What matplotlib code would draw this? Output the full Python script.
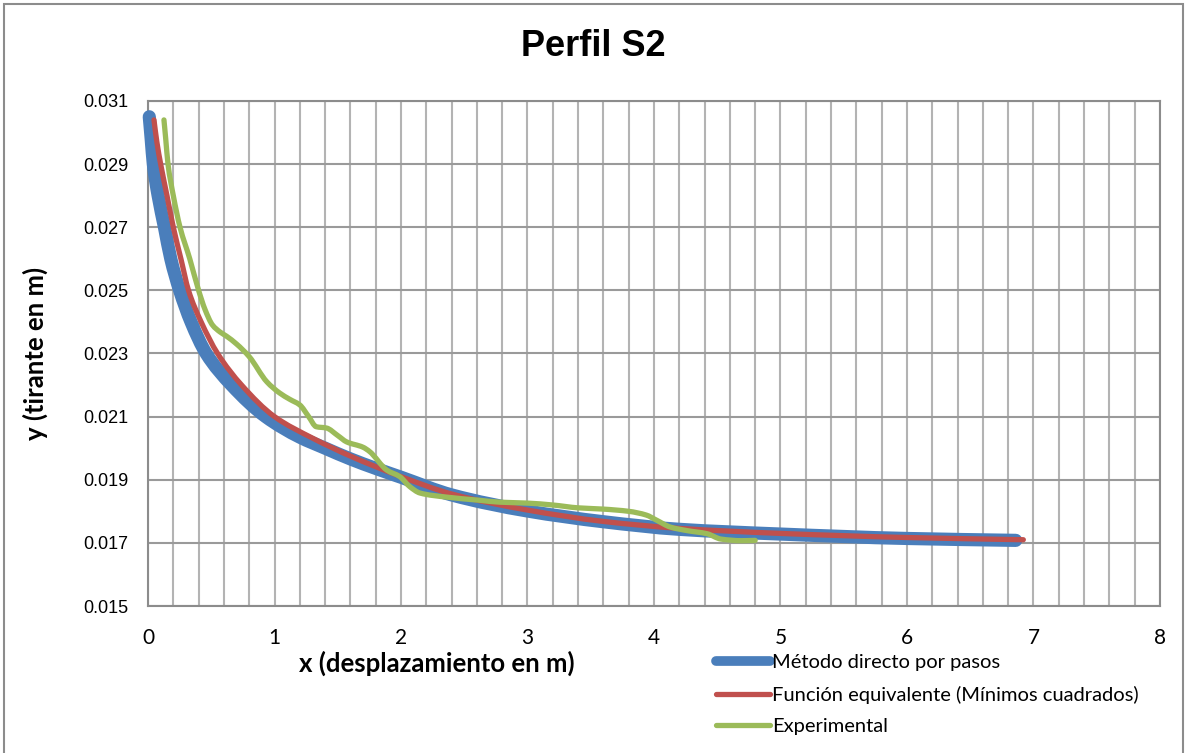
import matplotlib
matplotlib.use('Agg')
from matplotlib import pyplot as plt
from matplotlib.ticker import MultipleLocator, FormatStrFormatter
from matplotlib.lines import Line2D
from matplotlib.path import Path
from matplotlib.patches import PathPatch
import numpy as np

# Método directo por pasos
x_directo = [0.01, 0.025, 0.042, 0.08, 0.13, 0.18, 0.25, 0.34, 0.46, 0.66, 0.93, 1.2,
             1.4, 1.6, 1.8, 2.0, 2.4, 3.0, 3.6, 4.2, 5.0, 6.0, 6.86]
y_directo = [0.0305, 0.0298, 0.0290, 0.0280, 0.0270, 0.0260, 0.0250, 0.0240, 0.0230,
             0.0220, 0.0210, 0.02035, 0.0200, 0.01966, 0.01936, 0.01908, 0.01852,
             0.01801, 0.01767, 0.01743, 0.01728, 0.01714, 0.01708]

# Función equivalente (mínimos cuadrados)
x_funcion = [0.047, 0.07, 0.10, 0.15, 0.20, 0.26, 0.32, 0.42, 0.55, 0.74, 1.0, 1.3,
             1.6, 2.0, 2.4, 3.0, 3.6, 4.2, 5.0, 6.0, 6.92]
y_funcion = [0.0304, 0.0297, 0.0290, 0.0280, 0.0270, 0.0260, 0.0250, 0.0240, 0.0230,
             0.0220, 0.0210, 0.02032, 0.01975, 0.0191, 0.01855, 0.01804, 0.01768,
             0.01746, 0.01730, 0.01717, 0.01710]

# Experimental
x_exp = [0.126, 0.14, 0.158, 0.20, 0.253, 0.33, 0.40, 0.45, 0.51, 0.57, 0.62, 0.70,
         0.80, 0.94, 1.04, 1.12, 1.20, 1.27, 1.33, 1.41, 1.50, 1.57, 1.70, 1.75, 1.89,
         1.99, 2.07, 2.15, 2.36, 2.62, 2.78, 3.0, 3.2, 3.4, 3.6, 3.8, 3.94, 4.02, 4.13,
         4.26, 4.42, 4.53, 4.69, 4.80]
y_exp = [0.0304, 0.0298, 0.0290, 0.0280, 0.0270, 0.0260, 0.0250, 0.0244, 0.0239,
         0.02368, 0.02355, 0.0233, 0.0229, 0.0221, 0.02175, 0.02155, 0.02137, 0.0210,
         0.02068, 0.02064, 0.0204, 0.0202, 0.02003, 0.0199, 0.0193, 0.0191, 0.01878,
         0.01858, 0.01845, 0.01835, 0.01829, 0.01826, 0.0182, 0.01811, 0.01807, 0.0180,
         0.01788, 0.01772, 0.0175, 0.01739, 0.01729, 0.01712, 0.01707, 0.01708]

labels = ['Método directo por pasos',
          'Función equivalente (Mínimos cuadrados)',
          'Experimental']
colors = ['#4a7ebb', '#c0504d', '#9bbb59']
y_ticks = [0.015, 0.017, 0.019, 0.021, 0.023, 0.025, 0.027, 0.029, 0.031]


def smooth_line(ax, xs, ys, **kw):
    # linea suavizada: tramos bezier con pendientes monotonas (Fritsch-Carlson)
    x = np.asarray(xs, float)
    y = np.asarray(ys, float)
    h = np.diff(x)
    delta = np.diff(y) / h
    d = np.empty_like(x)
    d[0] = delta[0]
    d[-1] = delta[-1]
    for k in range(1, len(x) - 1):
        if delta[k - 1] * delta[k] <= 0:
            d[k] = 0.0
        else:
            w1 = 2 * h[k] + h[k - 1]
            w2 = h[k] + 2 * h[k - 1]
            d[k] = (w1 + w2) / (w1 / delta[k - 1] + w2 / delta[k])
    verts = [(x[0], y[0])]
    codes = [Path.MOVETO]
    for k in range(len(h)):
        verts += [(x[k] + h[k] / 3, y[k] + d[k] * h[k] / 3),
                  (x[k + 1] - h[k] / 3, y[k + 1] - d[k + 1] * h[k] / 3),
                  (x[k + 1], y[k + 1])]
        codes += [Path.CURVE4] * 3
    patch = PathPatch(Path(verts, codes), fill=False, capstyle='round',
                      joinstyle='round', clip_on=False, **kw)
    ax.add_patch(patch)


fig = plt.figure(figsize=(11.87, 7.53), dpi=100)
ax = fig.add_axes([0.1247, 0.1952, 0.8525, 0.6707])

smooth_line(ax, x_directo, y_directo, edgecolor=colors[0], lw=9.5, zorder=3)
smooth_line(ax, x_funcion, y_funcion, edgecolor=colors[1], lw=3.8, zorder=4)
smooth_line(ax, x_exp, y_exp, edgecolor=colors[2], lw=3.8, zorder=5)

ax.set_xlim(0, 8)
ax.set_ylim(0.015, 0.031)
ax.xaxis.set_major_locator(MultipleLocator(1))
ax.xaxis.set_minor_locator(MultipleLocator(0.2))
ax.set_yticks(y_ticks)
ax.yaxis.set_major_formatter(FormatStrFormatter('%.3f'))
ax.grid(which='both', axis='x', color='#b3b3b3', lw=1.5, zorder=1)
ax.grid(which='major', axis='y', color='#9a9a9a', lw=1.5, zorder=1)
ax.tick_params(which='both', length=0)
ax.tick_params(axis='y', pad=14, labelsize=13, labelfontfamily='Liberation Sans')
ax.tick_params(axis='x', pad=16, labelsize=15, labelfontfamily='Lato')
for s in ax.spines.values():
    s.set_color('#8c8c8c')
    s.set_linewidth(1.5)

fig.text(0.5, 0.938, 'Perfil S2', ha='center', va='center', fontsize=26,
         fontweight='bold', family='Liberation Sans')
fig.text(0.368, 0.119, 'x (desplazamiento en m)', ha='center', va='center',
         fontsize=18.5, fontweight='bold', family='Lato')
fig.text(0.03, 0.53, 'y (tirante en m)', ha='center', va='center', rotation=90,
         fontsize=18.5, fontweight='bold', family='Lato')

handles = [Line2D([], [], color=colors[0], lw=7, solid_capstyle='round'),
           Line2D([], [], color=colors[1], lw=3.8, solid_capstyle='round'),
           Line2D([], [], color=colors[2], lw=3.8, solid_capstyle='round')]
fig.legend(handles, labels, loc='upper left', bbox_to_anchor=(0.603, 0.131),
           frameon=False, prop={'family': 'Lato', 'size': 14.5}, handlelength=2.7,
           handletextpad=0.1, labelspacing=0.7, borderpad=0, borderaxespad=0)

# marco exterior
fig.add_artist(plt.Rectangle((0.003, -0.01), 0.994, 1.005, transform=fig.transFigure,
                             fill=False, edgecolor='#8c8c8c', lw=1.5))

plt.savefig('out.png', dpi=100)
